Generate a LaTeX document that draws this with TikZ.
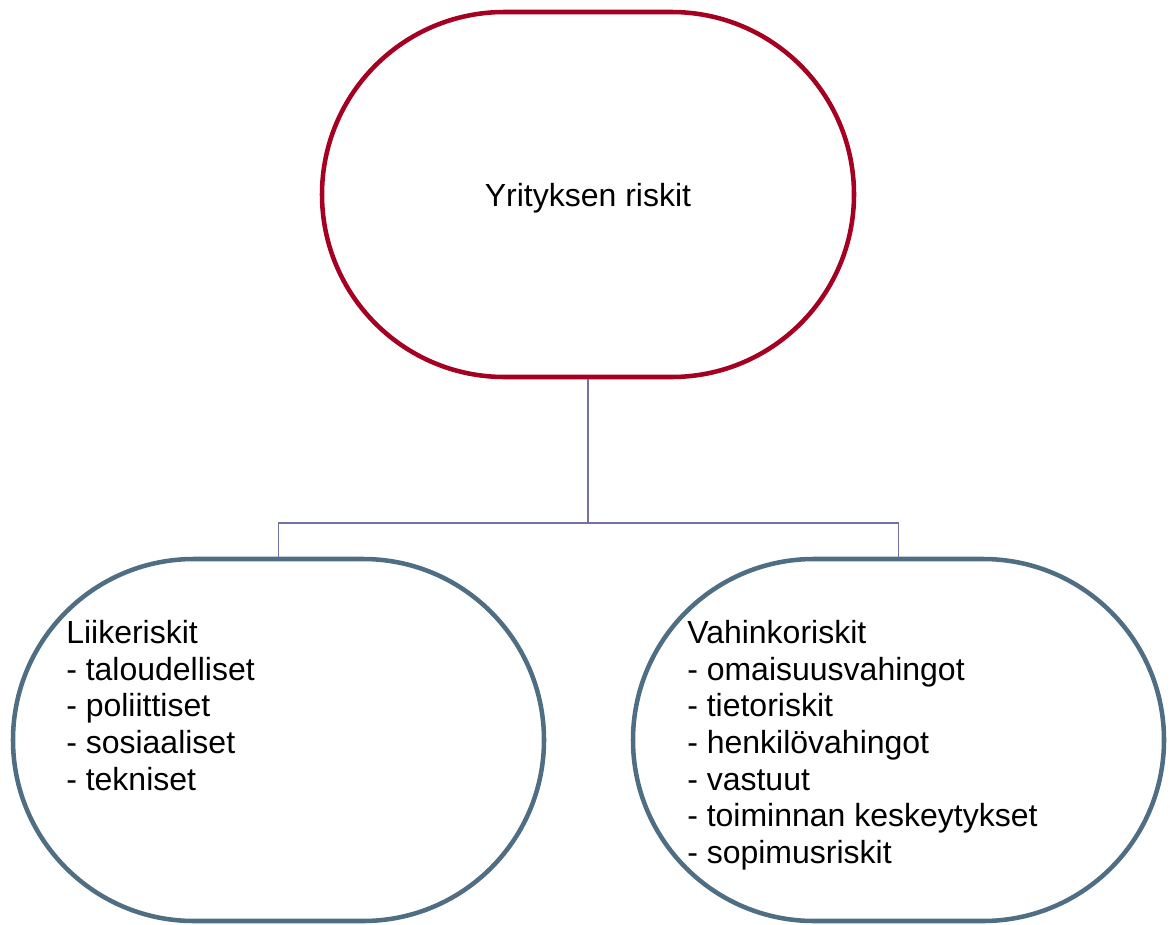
\documentclass[tikz,border=0pt]{standalone}
\usepackage{fontspec}
\setmainfont{Liberation Sans}
\usepackage{xcolor}
\usetikzlibrary{shapes.misc, positioning}

\definecolor{riskred}{HTML}{A50021}
\definecolor{riskblue}{HTML}{4F6E84}
\definecolor{linkgray}{HTML}{7272A8}

\begin{document}
\begin{tikzpicture}[
    x=0.75pt, y=-0.75pt,
    every node/.style={font=\fontsize{24pt}{27.5pt}\selectfont},
    pill/.style={draw, rounded rectangle, line width=3.4pt, inner sep=0pt},
    list/.style={align=left, inner sep=0pt, anchor=north west},
    link/.style={draw=linkgray, line width=1.1pt},
]

\useasboundingbox (0, 0) rectangle (1170, 924);

\node[pill, draw=riskred, minimum width=399pt, minimum height=273.75pt, text depth=0pt] (riskit) at (588, 194.5) {Yrityksen riskit};
\node[pill, draw=riskblue, minimum width=398.25pt, minimum height=271.5pt] (liike) at (278.5, 740) {};
\node[pill, draw=riskblue, minimum width=398.25pt, minimum height=271.5pt] (vahinko) at (898.5, 740) {};

\node[list] (liikeList) at (66, 620) {Liikeriskit\\- taloudelliset\\- poliittiset\\- sosiaaliset\\- tekniset};
\node[list] (vahinkoList) at (687, 620) {Vahinkoriskit\\- omaisuusvahingot\\- tietoriskit\\- henkilövahingot\\- vastuut\\- toiminnan keskeytykset\\- sopimusriskit};

\coordinate (fork) at (588, 523);

\draw[link] (riskit.south) -- (fork);
\draw[link] (liike.north) |- (fork) -| (vahinko.north);

\end{tikzpicture}
\end{document}
